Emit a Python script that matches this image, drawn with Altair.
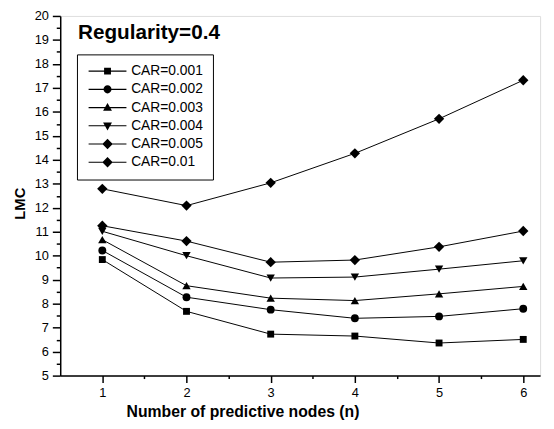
import altair as alt
import pandas as pd

x_nodes = [1, 2, 3, 4, 5, 6]
series_labels = ["CAR=0.001", "CAR=0.002", "CAR=0.003", "CAR=0.004", "CAR=0.005", "CAR=0.01"]
lmc_001 = [9.84, 7.68, 6.73, 6.65, 6.36, 6.51]
lmc_002 = [10.22, 8.27, 7.75, 7.39, 7.47, 7.79]
lmc_003 = [10.67, 8.75, 8.23, 8.13, 8.41, 8.72]
lmc_004 = [11.02, 10.00, 9.07, 9.11, 9.44, 9.79]
lmc_005 = [11.25, 10.61, 9.73, 9.82, 10.37, 11.03]
lmc_01 = [12.79, 12.09, 13.04, 14.27, 15.71, 17.32]

all_series = [lmc_001, lmc_002, lmc_003, lmc_004, lmc_005, lmc_01]
rows = []
for label, vals in zip(series_labels, all_series):
    for xv, yv in zip(x_nodes, vals):
        rows.append({"n": xv, "lmc": yv, "series": label})
df = pd.DataFrame(rows)

FONT = "Liberation Sans"

point_shapes = ["square", "circle", "triangle-up", "triangle-down", "diamond", "diamond"]
point_sizes = [49, 64, 72, 72, 110, 110]

# legend symbols: a thin filled bar (the line) with the marker in the middle
BAR = "M-3.2,-0.09H3.2V0.09H-3.2Z"
legend_paths = [
    BAR + "M-0.58,-0.58H0.58V0.58H-0.58Z",
    BAR + "M-0.68,0A0.68,0.68,0,1,1,0.68,0A0.68,0.68,0,1,1,-0.68,0Z",
    BAR + "M0,-0.78L0.75,0.55L-0.75,0.55Z",
    BAR + "M0,0.78L-0.75,-0.55L0.75,-0.55Z",
    BAR + "M-0.88,0L0,-0.88L0.88,0L0,0.88Z",
    BAR + "M-0.88,0L0,-0.88L0.88,0L0,0.88Z",
]

x_ticks = [1, 1.5, 2, 2.5, 3, 3.5, 4, 4.5, 5, 5.5, 6]
y_ticks = [5 + 0.5 * i for i in range(31)]

LABEL_EXPR = "datum.value % 1 === 0 ? format(datum.value, 'd') : ''"

x_enc = alt.X(
    "n:Q",
    scale=alt.Scale(domain=[0.5, 6.2], nice=False, zero=False),
    axis=alt.Axis(
        title="Number of predictive nodes (n)",
        values=x_ticks,
        labelExpr=LABEL_EXPR,
        tickSize={"condition": {"test": "datum.value % 1 !== 0", "value": 3}, "value": 7},
        grid=False,
        domainColor="black",
        domainWidth=1.5,
        tickColor="black",
        tickWidth=1.5,
        labelFont=FONT,
        labelFontSize=13,
        labelColor="black",
        labelPadding=4,
        titleFont=FONT,
        titleFontSize=16,
        titleFontWeight="bold",
        titleColor="black",
        titlePadding=4,
        titleX=185,
    ),
)
y_enc = alt.Y(
    "lmc:Q",
    scale=alt.Scale(domain=[5, 20], nice=False, zero=False),
    axis=alt.Axis(
        title="LMC",
        values=y_ticks,
        labelExpr=LABEL_EXPR,
        tickSize={"condition": {"test": "datum.value % 1 !== 0", "value": 4}, "value": 8},
        grid=False,
        domainColor="black",
        domainWidth=1.5,
        tickColor="black",
        tickWidth=1.5,
        labelFont=FONT,
        labelFontSize=13,
        labelColor="black",
        labelPadding=4,
        titleFont=FONT,
        titleFontSize=15,
        titleFontWeight="bold",
        titleColor="black",
        titlePadding=7,
        titleY=190,
    ),
)

base = alt.Chart(df)

lines = base.mark_line(color="black", strokeWidth=1).encode(
    x=x_enc, y=y_enc, detail="series:N"
)

point_layers = []
for label, shp, sz in zip(series_labels, point_shapes, point_sizes):
    point_layers.append(
        base.transform_filter(alt.datum.series == label)
        .mark_point(filled=True, color="black", opacity=1, shape=shp, size=sz)
        .encode(x=x_enc, y=y_enc)
    )

legend_layer = (
    base.transform_filter("false")
    .mark_point(filled=True, color="black", opacity=1)
    .encode(
        x=x_enc,
        y=y_enc,
        shape=alt.Shape(
            "series:N",
            scale=alt.Scale(domain=series_labels, range=legend_paths),
            legend=alt.Legend(
                title=None,
                orient="none",
                legendX=17,
                legendY=39,
                direction="vertical",
                strokeColor="black",
                padding=10,
                symbolSize=144,
                symbolOffset=14,
                symbolFillColor="black",
                symbolStrokeColor="black",
                symbolStrokeWidth=0,
                labelOffset=17,
                labelFont=FONT,
                labelFontSize=14,
                labelColor="black",
                rowPadding=4.5,
                labelLimit=0,
            ),
        ),
    )
)

chart = (
    alt.layer(lines, *point_layers, legend_layer)
    .properties(
        width=487,
        height=365,
        autosize=alt.AutoSizeParams(type="none"),
        padding={"left": 53, "top": 5, "right": 6, "bottom": 44},
        title=alt.TitleParams(
            "Regularity=0.4",
            anchor="start",
            frame="group",
            orient="top",
            offset=0,
            dx=18,
            dy=50,
            baseline="alphabetic",
            font=FONT,
            fontSize=21,
            fontWeight="bold",
            color="black",
        ),
    )
    .configure_view(stroke=None)
    .configure(background="white")
)

chart.save("out.html", embed_options={"renderer": "svg", "actions": False})
